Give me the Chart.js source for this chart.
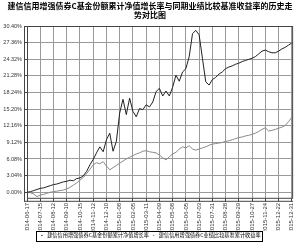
<!DOCTYPE html>
<html><head><meta charset="utf-8">
<script src="https://cdn.jsdelivr.net/npm/chart.js@4.4.0/dist/chart.umd.min.js"></script>
<style>html,body{margin:0;padding:0;background:#fff}#c{display:block}</style>
</head><body>
<canvas id="c" width="300" height="248"></canvas>
<script>
const dateLabels = ['2014-06-17','2014-07-15','2014-08-12','2014-09-10','2014-10-15','2014-11-12','2014-12-10','2015-01-08','2015-02-05','2015-03-11','2015-04-09','2015-05-08','2015-06-05','2015-07-03','2015-07-31','2015-08-28','2015-09-29','2015-10-27','2015-11-24','2015-12-22','2015-12-31'];
const yTickValues = [0.00,3.04,6.08,9.12,12.16,15.20,18.24,21.28,24.32,27.36,30.40];
const fundGrowth = [0,0.1,0.3,0.5,0.7,0.8,1.0,1.2,1.4,1.5,1.7,1.9,2.0,2.2,2.1,2.5,2.6,3.0,3.8,5.0,6.0,7.2,8.3,7.4,9.6,10.8,7.5,9.3,14.5,17.0,14.2,17.2,14.8,13.8,15.3,15.1,16.0,15.6,16.5,18.4,19.0,17.6,18.5,17.6,19.2,21.4,20.3,22.0,22.6,24.8,29.0,29.6,28.8,24.5,20.2,19.6,20.6,21.0,21.6,22.0,22.6,22.9,23.1,23.4,23.6,23.9,24.1,24.3,24.5,24.8,25.3,25.8,26.0,25.7,25.5,25.5,25.8,26.2,26.5,26.9,27.3];
const benchmarkReturn = [0,-0.1,-0.3,-0.8,-0.5,-0.4,-0.2,0.0,0.1,0.2,0.3,0.4,0.6,0.9,1.3,1.7,2.2,2.7,3.4,4.2,5.0,5.4,5.2,5.6,4.8,4.1,4.5,4.9,5.3,5.7,6.1,6.4,6.7,7.0,7.2,7.5,7.6,7.4,7.3,7.2,6.8,6.3,5.9,6.5,7.0,7.3,7.9,8.3,8.1,8.5,7.9,7.7,7.9,8.1,8.3,8.6,8.8,8.9,9.0,9.1,9.3,9.4,9.6,9.8,10.0,10.1,10.3,10.4,10.6,10.8,11.1,11.5,11.8,11.2,11.3,11.5,11.7,11.9,12.2,12.9,13.7];
const seriesNames = ['建信信用增强债券C基金份额累计净值增长率','建信信用增强债券C业绩比较基准累计收益率'];
const titleLines = ['建信信用增强债券C基金份额累计净值增长率与同期业绩比较基准收益率的历史走','势对比图'];
const pointsPerInterval = 4;

const toXY = arr => arr.map((v,i)=>({x:i/pointsPerInterval,y:v}));
const frame = {
  id:'frame',
  afterDraw(chart){
    const a = chart.chartArea, ctx = chart.ctx;
    ctx.save();
    ctx.strokeStyle='#444'; ctx.lineWidth=1;
    ctx.strokeRect(a.left+0.5,a.top+0.5,a.right-a.left-1,a.bottom-a.top-1);
    ctx.beginPath();
    ctx.moveTo(a.left-2.5,a.top); ctx.lineTo(a.left-2.5,a.bottom+3);
    ctx.moveTo(a.left-3,a.bottom+2.5); ctx.lineTo(a.right,a.bottom+2.5);
    ctx.stroke();
    const lg = chart.legend;
    if(lg && lg.legendHitBoxes.length){
      const hb = lg.legendHitBoxes;
      const l = hb[0].left-3, r = hb[hb.length-1].left+hb[hb.length-1].width+2;
      ctx.strokeStyle='#000';
      ctx.strokeRect(Math.round(l)+0.5, Math.round(hb[0].top-2)+0.5, Math.round(r-l), 10);
    }
    ctx.restore();
  }
};
new Chart(document.getElementById('c'),{
  type:'line',
  data:{datasets:[
    {label:seriesNames[0],data:toXY(fundGrowth),borderColor:'#222',borderWidth:1,pointRadius:0,tension:0},
    {label:seriesNames[1],data:toXY(benchmarkReturn),borderColor:'#8a8a8a',borderWidth:1,pointRadius:0,tension:0}
  ]},
  options:{
    responsive:false,animation:false,
    layout:{padding:{left:0,right:0,top:0,bottom:0}},
    plugins:{
      title:{display:true,text:titleLines,color:'#000',font:{family:'"Noto Sans CJK SC"',size:8,weight:'bold',lineHeight:1.15},padding:{top:1,bottom:6.6}},
      legend:{position:'bottom',labels:{usePointStyle:true,pointStyle:'line',boxWidth:12,boxHeight:1,padding:2,color:'#000',font:{family:'"Noto Sans CJK SC"',size:5.2}}},
      tooltip:{enabled:false}
    },
    scales:{
      x:{type:'linear',min:0,max:20.1,
        afterBuildTicks(s){s.ticks=dateLabels.map((_,i)=>({value:i}));},
        afterFit(s){s.height=32;},
        grid:{color:'#999',borderDash:[1,2],drawTicks:true,tickLength:3,tickColor:'#444'},
        border:{display:false},
        ticks:{autoSkip:false,maxRotation:90,minRotation:90,padding:1,color:'#333',font:{family:'"Liberation Sans"',size:6},callback:(v)=>dateLabels[v]}},
      y:{type:'linear',min:-1.2,max:30.4,
        afterBuildTicks(s){s.ticks=yTickValues.map(v=>({value:v}));},
        afterFit(s){s.width=27;},
        grid:{color:'#999',borderDash:[1,2],drawTicks:true,tickLength:3,tickColor:'#444'},
        border:{display:false},
        ticks:{autoSkip:false,padding:2,color:'#333',font:{family:'"Liberation Sans"',size:5.5},callback:(v)=>v.toFixed(2)+'%'}}
    }
  },
  plugins:[frame]
});
</script>
</body></html>
